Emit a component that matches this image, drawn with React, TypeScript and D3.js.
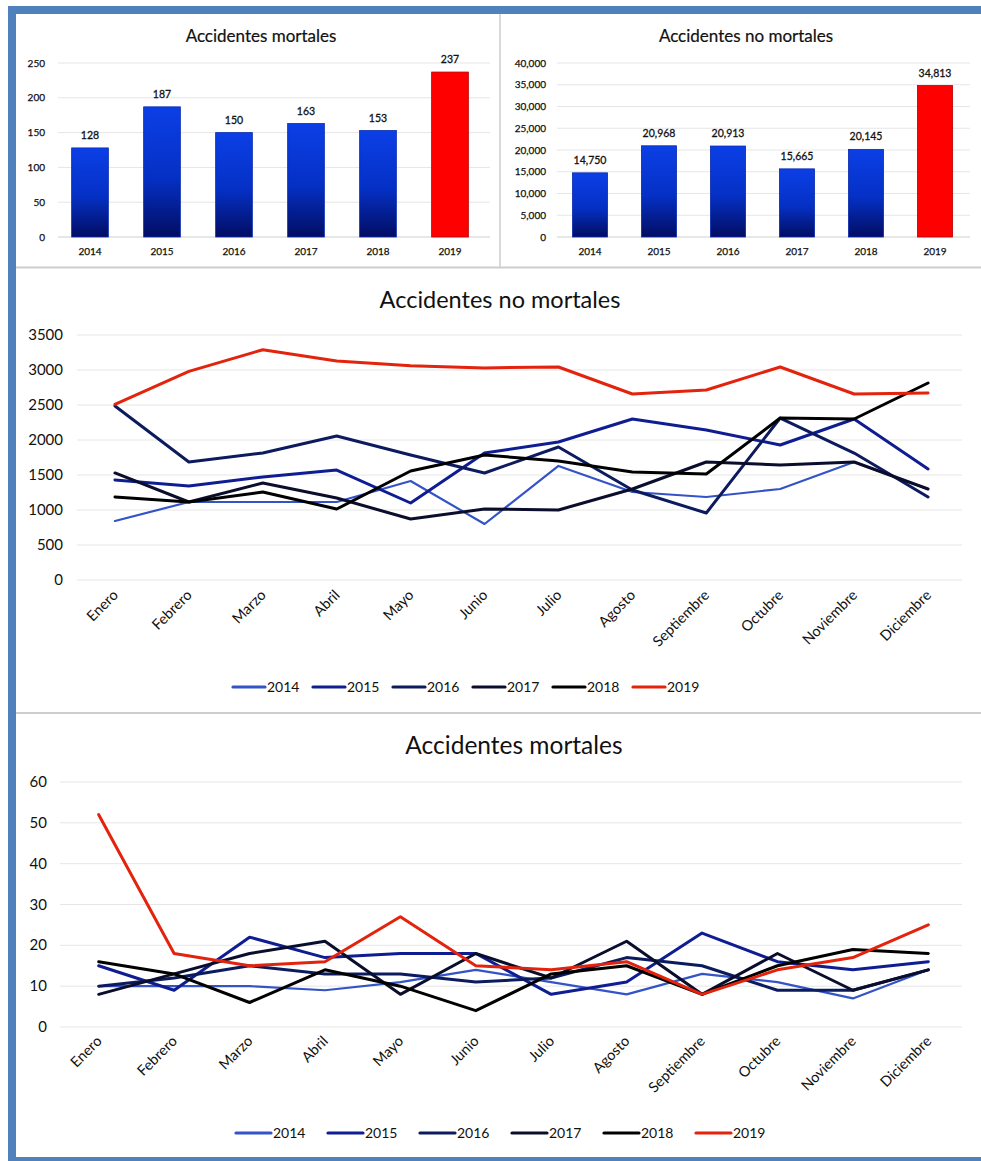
import React from 'react';
import * as d3 from 'd3';

// Annual totals
const years = ['2014', '2015', '2016', '2017', '2018', '2019'];
const fatalTotals = [128, 187, 150, 163, 153, 237];
const nonFatalTotals = [14750, 20968, 20913, 15665, 20145, 34813];

// Monthly figures
const months = ['Enero', 'Febrero', 'Marzo', 'Abril', 'Mayo', 'Junio', 'Julio', 'Agosto', 'Septiembre', 'Octubre', 'Noviembre', 'Diciembre'];

const nonFatal2014 = [843, 1114, 1114, 1114, 1414, 800, 1629, 1257, 1186, 1300, 1686, 1300];
const nonFatal2015 = [1429, 1343, 1471, 1571, 1100, 1814, 1971, 2300, 2143, 1929, 2300, 1586];
const nonFatal2016 = [2486, 1686, 1814, 2057, 1786, 1529, 1900, 1286, 957, 2314, 1814, 1186];
const nonFatal2017 = [1529, 1114, 1386, 1171, 871, 1014, 1000, 1300, 1686, 1643, 1686, 1300];
const nonFatal2018 = [1186, 1114, 1257, 1014, 1557, 1786, 1700, 1543, 1514, 2314, 2300, 2814];
const nonFatal2019 = [2510, 2980, 3290, 3130, 3060, 3030, 3043, 2657, 2714, 3043, 2657, 2671];

const fatal2014 = [10, 10, 10, 9, 11, 14, 11, 8, 13, 11, 7, 14];
const fatal2015 = [15, 9, 22, 17, 18, 18, 8, 11, 23, 16, 14, 16];
const fatal2016 = [10, 12, 15, 13, 13, 11, 12, 17, 15, 9, 9, 14];
const fatal2017 = [8, 13, 18, 21, 8, 18, 12, 21, 8, 18, 9, 14];
const fatal2018 = [16, 13, 6, 14, 10, 4, 13, 15, 8, 15, 19, 18];
const fatal2019 = [52, 18, 15, 16, 27, 15, 14, 16, 8, 14, 17, 25];

const nonFatalTicks = [0, 500, 1000, 1500, 2000, 2500, 3000, 3500];
const fatalTicks = [0, 10, 20, 30, 40, 50, 60];
const fatalBarTicks = [0, 50, 100, 150, 200, 250];
const nonFatalBarTicks = [0, 5000, 10000, 15000, 20000, 25000, 30000, 35000, 40000];

const seriesColors = ['#3353c6', '#0f1d92', '#0c1a5e', '#0a0e2c', '#000000', '#e3230c'];
const seriesWidths = [2.2, 3, 3, 3, 3, 3];

const FONT = 'Lato, "Liberation Sans", sans-serif';
const FRAME = '#4f81bd';
const GRID = '#e6e6e6';
const DIVIDER = '#cdcdcd';
const INK = '#111';

const fmt = d3.format(',');

type BarProps = {
  title: string;
  titleX: number;
  values: number[];
  ticks: number[];
  max: number;
  xRange: [number, number];
  gridRange: [number, number];
  labelX: number;
  tickFmt: (v: number) => string;
};

function BarPanel({ title, titleX, values, ticks, max, xRange, gridRange, labelX, tickFmt }: BarProps) {
  const x = d3.scaleBand<string>().domain(years).range(xRange).paddingInner(0.49).paddingOuter(0.245);
  const y = d3.scaleLinear().domain([0, max]).range([237, 63]);
  return (
    <g>
      <text x={titleX} y={42} textAnchor="middle" fontSize={17} fill={INK} stroke={INK} strokeWidth={0.2}>{title}</text>
      {ticks.map((t) => (
        <g key={t}>
          {t > 0 && <line x1={gridRange[0]} x2={gridRange[1]} y1={y(t)} y2={y(t)} stroke={GRID} strokeWidth={1} />}
          <text x={labelX} y={y(t) + 3.5} textAnchor="end" fontSize={10} fill={INK} stroke={INK} strokeWidth={0.25}>{tickFmt(t)}</text>
        </g>
      ))}
      <line x1={gridRange[0]} x2={gridRange[1]} y1={y(0)} y2={y(0)} stroke="#cfcfcf" strokeWidth={1.2} />
      {years.map((yr, i) => {
        const v = values[i];
        const bx = x(yr)!;
        const bw = x.bandwidth();
        const last = i === years.length - 1;
        return (
          <g key={yr}>
            <rect x={bx} y={y(v)} width={bw} height={y(0) - y(v)}
              fill={last ? '#fe0000' : 'url(#barBlue)'}
              stroke={last ? '#b80000' : '#0a2bb0'} strokeWidth={0.8} />
            <text x={bx + bw / 2} y={y(v) - 9} textAnchor="middle" fontSize={10.5} fill={INK} stroke={INK} strokeWidth={0.3}>{fmt(v)}</text>
            <text x={bx + bw / 2} y={255} textAnchor="middle" fontSize={10} fill={INK} stroke={INK} strokeWidth={0.25}>{yr}</text>
          </g>
        );
      })}
    </g>
  );
}

type LineProps = {
  title: string;
  titleX: number;
  titleY: number;
  titleSize: number;
  series: number[][];
  ticks: number[];
  yRange: [number, number];
  xRange: [number, number];
  gridRange: [number, number];
  labelX: number;
  monthLabelY: number;
  legendY: number;
  legendX: number;
  legendStep: number;
  legendLine: number;
};

function LinePanel(p: LineProps) {
  const x = d3.scalePoint<string>().domain(months).range(p.xRange).padding(0.5);
  const max = p.ticks[p.ticks.length - 1];
  const y = d3.scaleLinear().domain([0, max]).range(p.yRange);
  const line = d3.line<number>().x((_, i) => x(months[i])!).y((d) => y(d));
  return (
    <g>
      <text x={p.titleX} y={p.titleY} textAnchor="middle" fontSize={p.titleSize} fill={INK}>{p.title}</text>
      {p.ticks.map((t) => (
        <g key={t}>
          <line x1={p.gridRange[0]} x2={p.gridRange[1]} y1={y(t)} y2={y(t)} stroke={GRID} strokeWidth={1} />
          <text x={p.labelX} y={y(t) + 5} textAnchor="end" fontSize={15} fill={INK}>{t}</text>
        </g>
      ))}
      {p.series.map((s, i) => (
        <path key={years[i]} d={line(s) || ''} fill="none" stroke={seriesColors[i]}
          strokeWidth={seriesWidths[i]} strokeLinejoin="round" strokeLinecap="round" />
      ))}
      {months.map((m) => (
        <text key={m} transform={`translate(${x(m)! + 4},${p.monthLabelY}) rotate(-45)`}
          textAnchor="end" fontSize={14.5} fill={INK}>{m}</text>
      ))}
      {years.map((yr, i) => {
        const lx = p.legendX + i * p.legendStep;
        return (
          <g key={yr}>
            <line x1={lx} x2={lx + p.legendLine} y1={p.legendY} y2={p.legendY}
              stroke={seriesColors[i]} strokeWidth={3.2} strokeLinecap="round" />
            <text x={lx + p.legendLine + 2} y={p.legendY + 5} fontSize={14} fill={INK}>{yr}</text>
          </g>
        );
      })}
    </g>
  );
}

export default function App() {
  const W = 981;
  const H = 1161;
  return (
    <svg width={W} height={H} viewBox={`0 0 ${W} ${H}`} fontFamily={FONT}
      style={{ position: 'absolute', left: 0, top: 0, background: '#fff' }}>
      <defs>
        <linearGradient id="barBlue" x1="0" y1="0" x2="0" y2="1">
          <stop offset="0%" stopColor="#0b3fe6" />
          <stop offset="55%" stopColor="#0530c4" />
          <stop offset="100%" stopColor="#020d62" />
        </linearGradient>
      </defs>
      <rect x={0} y={0} width={W} height={H} fill="#fff" />

      {/* outer frame */}
      <rect x={8} y={6} width={W - 8} height={8} fill={FRAME} />
      <rect x={8} y={6} width={8} height={H - 6} fill={FRAME} />
      <rect x={8} y={1157} width={W - 8} height={4} fill={FRAME} />

      {/* panel dividers */}
      <line x1={500} x2={500} y1={14} y2={267} stroke={DIVIDER} strokeWidth={1.5} />
      <line x1={16} x2={W} y1={267.5} y2={267.5} stroke={DIVIDER} strokeWidth={2} />
      <line x1={16} x2={W} y1={713} y2={713} stroke={DIVIDER} strokeWidth={2} />

      <BarPanel title="Accidentes mortales" titleX={261} values={fatalTotals} ticks={fatalBarTicks}
        max={250} xRange={[54, 486]} gridRange={[58, 490]} labelX={45} tickFmt={(v) => String(v)} />
      <BarPanel title="Accidentes no mortales" titleX={746} values={nonFatalTotals} ticks={nonFatalBarTicks}
        max={40000} xRange={[555.5, 969.5]} gridRange={[557, 970]} labelX={546} tickFmt={(v) => fmt(v)} />

      <LinePanel title="Accidentes no mortales" titleX={500} titleY={308} titleSize={23.5}
        series={[nonFatal2014, nonFatal2015, nonFatal2016, nonFatal2017, nonFatal2018, nonFatal2019]}
        ticks={nonFatalTicks} yRange={[580, 335]} xRange={[78, 965]} gridRange={[77, 962]}
        labelX={63} monthLabelY={596} legendY={687} legendX={233} legendStep={80} legendLine={32} />

      <LinePanel title="Accidentes mortales" titleX={514} titleY={754} titleSize={24.5}
        series={[fatal2014, fatal2015, fatal2016, fatal2017, fatal2018, fatal2019]}
        ticks={fatalTicks} yRange={[1027, 782]} xRange={[61, 966]} gridRange={[60, 962]}
        labelX={47} monthLabelY={1042} legendY={1133} legendX={236} legendStep={92} legendLine={35} />
    </svg>
  );
}
